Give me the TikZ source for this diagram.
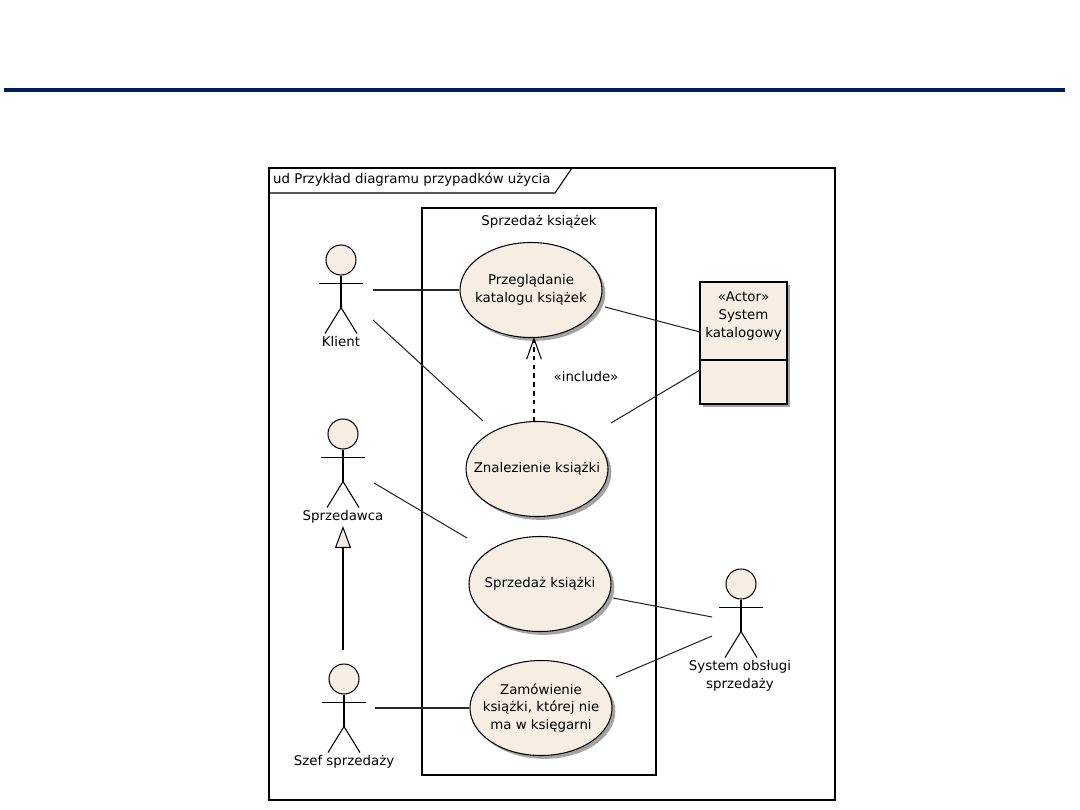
\documentclass[tikz,border=0pt]{standalone}
\usepackage{fontspec}
\setmainfont{DejaVu Sans}
\usepackage{tikz}
\usetikzlibrary{shapes.geometric, arrows.meta, positioning, shadows}
\definecolor{ucfill}{HTML}{F6EEE2}
\definecolor{rulenavy}{HTML}{001A5C}
\tikzstyle{softshadow} = [drop shadow={shadow xshift=0.1cm, shadow yshift=-0.1cm, fill=black!45, opacity=0.8}]
\tikzstyle{usecase} = [ellipse, draw=black, fill=ucfill, line width=0.9pt, inner xsep=-12pt, inner ysep=0pt, text centered, align=center, minimum width=4.26cm, minimum height=2.85cm, font=\fontsize{11.4}{15.3}\selectfont, softshadow]
\tikzstyle{label} = [inner sep=0pt, align=center, font=\fontsize{11.4}{15.3}\selectfont]
\tikzstyle{assoc} = [line width=0.9pt, black!85]
\tikzstyle{head} = [circle, draw=black, fill=ucfill, line width=0.9pt, minimum size=0.9cm, inner sep=0pt]
\tikzstyle{arrow} = [dash pattern=on 4pt off 3.5pt, line width=0.9pt, -{Straight Barb[length=0.62cm, width=0.44cm]}]
\tikzstyle{inherit} = [line width=0.9pt, -{Triangle[open, length=0.66cm, width=0.48cm, fill=ucfill]}]
% stick figure below a named head node
\newcommand{\stickman}[1]{
    \draw [line width=0.9pt] (#1.south) -- ++(0, 32) coordinate (#1hip);
    \draw [line width=0.9pt] ([xshift=-0.66cm, yshift=-0.24cm]#1.south) -- ([xshift=0.66cm, yshift=-0.24cm]#1.south);
    \draw [line width=0.9pt] (#1hip) -- ++(-16, 26);
    \draw [line width=0.9pt] (#1hip) -- ++(16, 26);
}

\begin{document}
\begin{tikzpicture}[x=0.03cm, y=-0.03cm]
    \useasboundingbox (0, 0) rectangle (1080, 810);

    \draw [rulenavy, line width=3.4pt] (4, 90) -- (1065, 90);

    % frame and tab
    \draw [line width=0.9pt] (269, 168) rectangle (835, 800);
    \draw [line width=0.9pt] (269, 193) -- (555, 193) -- (572, 168);
    \node (title) [label, anchor=west] at (273, 180) {ud Przykład diagramu przypadków użycia};

    % system boundary
    \draw [line width=0.9pt] (422, 208) rectangle (656, 775);
    \node (boundary) [label] at (539, 222) {Sprzedaż książek};

    % use cases
    \node (przegl) [usecase] at (531, 290) {Przeglądanie\\katalogu książek};
    \node (znal) [usecase] at (537, 469) {Znalezienie książki};
    \node (sprz) [usecase] at (540, 584) {Sprzedaż książki};
    \node (zam) [usecase] at (541, 708) {Zamówienie\\książki, której nie\\ma w księgarni};

    % actors
    \node (klient) [head] at (341, 260) {};
    \stickman{klient}
    \node (klientlab) [label] at (341, 342) {Klient};
    \node (sprzed) [head] at (343, 434) {};
    \stickman{sprzed}
    \node (sprzedlab) [label] at (343, 517) {Sprzedawca};
    \node (szef) [head] at (344, 679) {};
    \stickman{szef}
    \node (szeflab) [label] at (344, 762) {Szef sprzedaży};
    \node (obsl) [head] at (741, 584) {};
    \stickman{obsl}
    \node (obsllab) [label] at (740, 676) {System obsługi\\sprzedaży};

    % system katalogowy
    \node (katalog) [draw=black, fill=ucfill, line width=0.9pt, minimum width=2.61cm, minimum height=3.66cm, inner sep=0pt, softshadow] at (743.5, 343) {};
    \draw [line width=0.9pt] (700, 360) -- (787, 360);
    \node (kataloglab) [label, anchor=north] at (743.5, 292) {«Actor»\\System\\katalogowy};

    % free ends of the associations
    \coordinate (k1) at (373, 290);
    \coordinate (k2) at (373, 320);
    \coordinate (s1) at (374, 483);
    \coordinate (z1) at (375, 708);
    \coordinate (o1) at (712, 617);
    \coordinate (o2) at (712, 636);
    \coordinate (p1) at (605, 307);
    \coordinate (z2) at (611, 423);
    \coordinate (z3) at (483, 421);
    \coordinate (s2) at (467, 538);
    \coordinate (s3) at (613, 598);
    \coordinate (z4) at (616, 677);
    \coordinate (kat1) at (700, 332);
    \coordinate (kat2) at (700, 370);
    \coordinate (inc) at (534, 422);
    \coordinate (incend) at (534, 337);
    \coordinate (gen) at (343, 650);
    \coordinate (genend) at (343, 526);

    \draw [assoc] (k1) -- (przegl.west);
    \draw [assoc] (k2) -- (z3);
    \draw [assoc] (s1) -- (s2);
    \draw [assoc] (z1) -- (zam.west);
    \draw [assoc] (p1) -- (kat1);
    \draw [assoc] (z2) -- (kat2);
    \draw [assoc] (s3) -- (o1);
    \draw [assoc] (z4) -- (o2);

    \draw [arrow] (inc) -- (incend);
    \node (inclab) [label] at (586, 377) {«include»};
    \draw [inherit] (gen) -- (genend);

\end{tikzpicture}
\end{document}
